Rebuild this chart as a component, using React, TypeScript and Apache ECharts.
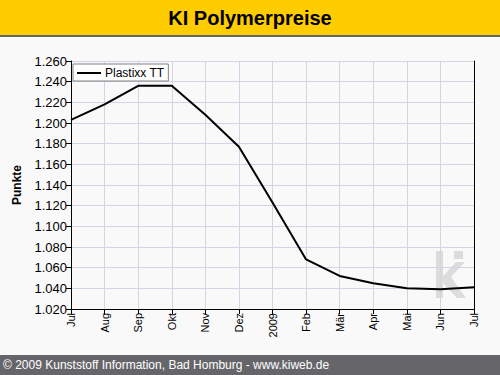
import React, { useEffect, useRef } from "react";
import * as echarts from "echarts";

const categories = ["Jul", "Aug", "Sep", "Okt", "Nov", "Dez", "2009", "Feb", "Mär", "Apr", "Mai", "Jun", "Jul"];
const plastixxValues = [1.203, 1.218, 1.236, 1.236, 1.208, 1.177, 1.123, 1.068, 1.052, 1.045, 1.040, 1.039, 1.041];
const seriesName = "Plastixx TT";
const yMin = 1.02;
const yMax = 1.26;
const yStep = 0.02;
const titleText = "KI Polymerpreise";
const footerText = "© 2009 Kunststoff Information, Bad Homburg - www.kiweb.de";
const yAxisName = "Punkte";

const FONT = "Liberation Sans, Arial, sans-serif";

export default function App() {
  const ref = useRef<HTMLDivElement>(null);
  useEffect(() => {
    if (!ref.current) return;
    const chart = echarts.init(ref.current, undefined, { renderer: "svg" });
    const wm = "#dcdcdc";
    chart.setOption({
      animation: false,
      backgroundColor: "#f9f9f9",
      textStyle: { fontFamily: FONT },
      grid: { left: 71, right: 26, top: 61, bottom: 66, containLabel: false },
      legend: {
        left: 73,
        top: 64,
        padding: [3, 4, 2, 4],
        backgroundColor: "#ffffff",
        borderColor: "#808080",
        borderWidth: 1,
        itemWidth: 24,
        itemHeight: 2,
        itemGap: 4,
        icon: "rect",
        textStyle: { fontFamily: FONT, fontSize: 12, color: "#000", padding: [0, 0, 0, -1] },
        data: [seriesName],
      },
      xAxis: {
        type: "category",
        data: categories,
        boundaryGap: false,
        axisLine: { lineStyle: { color: "#000", width: 1 } },
        axisTick: { show: true, length: 5, interval: 0, lineStyle: { color: "#000" } },
        axisLabel: { rotate: 90, interval: 0, fontSize: 11, color: "#000", fontFamily: FONT, margin: 4 },
        splitLine: { show: true, interval: 0, lineStyle: { color: "#d4d4e6", width: 1 } },
      },
      yAxis: [
        {
          type: "value",
          min: yMin,
          max: yMax,
          interval: yStep,
          name: yAxisName,
          nameLocation: "middle",
          nameGap: 48,
          nameTextStyle: { fontFamily: FONT, fontSize: 12, fontWeight: "bold", color: "#000" },
          axisLine: { show: true, lineStyle: { color: "#000", width: 1 } },
          axisTick: { show: true, length: 5, lineStyle: { color: "#000" } },
          axisLabel: {
            fontSize: 13,
            color: "#000",
            fontFamily: FONT,
            margin: 4,
            formatter: (v: number) => v.toFixed(3),
          },
          splitLine: { show: true, lineStyle: { color: "#d4d4e6", width: 1 } },
        },
        {
          type: "value",
          min: yMin,
          max: yMax,
          interval: yStep,
          position: "right",
          axisLine: { show: true, lineStyle: { color: "#000", width: 1 } },
          axisTick: { show: false },
          axisLabel: { show: false },
          splitLine: { show: false },
        },
      ],
      series: [
        {
          name: seriesName,
          type: "line",
          data: plastixxValues,
          symbol: "none",
          lineStyle: { color: "#000", width: 2 },
          itemStyle: { color: "#000" },
          z: 5,
        },
      ],
      graphic: [
        { type: "rect", shape: { x: 0, y: 0, width: 500, height: 35 }, style: { fill: "#ffcc00" }, z: 10 },
        { type: "rect", shape: { x: 0, y: 35, width: 500, height: 2 }, style: { fill: "#666666" }, z: 10 },
        {
          type: "text",
          x: 250,
          y: 18,
          style: {
            text: titleText,
            fontFamily: FONT,
            fontSize: 20,
            fontWeight: "bold",
            fill: "#000",
            textAlign: "center",
            textVerticalAlign: "middle",
          },
          z: 11,
        },
        { type: "rect", shape: { x: 0, y: 355, width: 500, height: 20 }, style: { fill: "#66666a" }, z: 10 },
        {
          type: "text",
          x: 3,
          y: 365,
          style: {
            text: footerText,
            fontFamily: FONT,
            fontSize: 12,
            fill: "#ffffff",
            textAlign: "left",
            textVerticalAlign: "middle",
          },
          z: 11,
        },
        { type: "rect", shape: { x: 436, y: 251, width: 7, height: 47 }, style: { fill: wm }, z: -1 },
        { type: "rect", shape: { x: 454, y: 251, width: 9, height: 8 }, style: { fill: wm }, z: -1 },
        {
          type: "polygon",
          shape: {
            points: [
              [443, 276],
              [456, 262],
              [465, 262],
              [451, 277],
              [466, 298],
              [457, 298],
              [443, 283],
            ],
          },
          style: { fill: wm },
          z: -1,
        },
      ],
    });
    return () => chart.dispose();
  }, []);
  return (
    <div
      ref={ref}
      style={{ position: "fixed", left: 0, top: 0, width: 500, height: 375 }}
    />
  );
}
